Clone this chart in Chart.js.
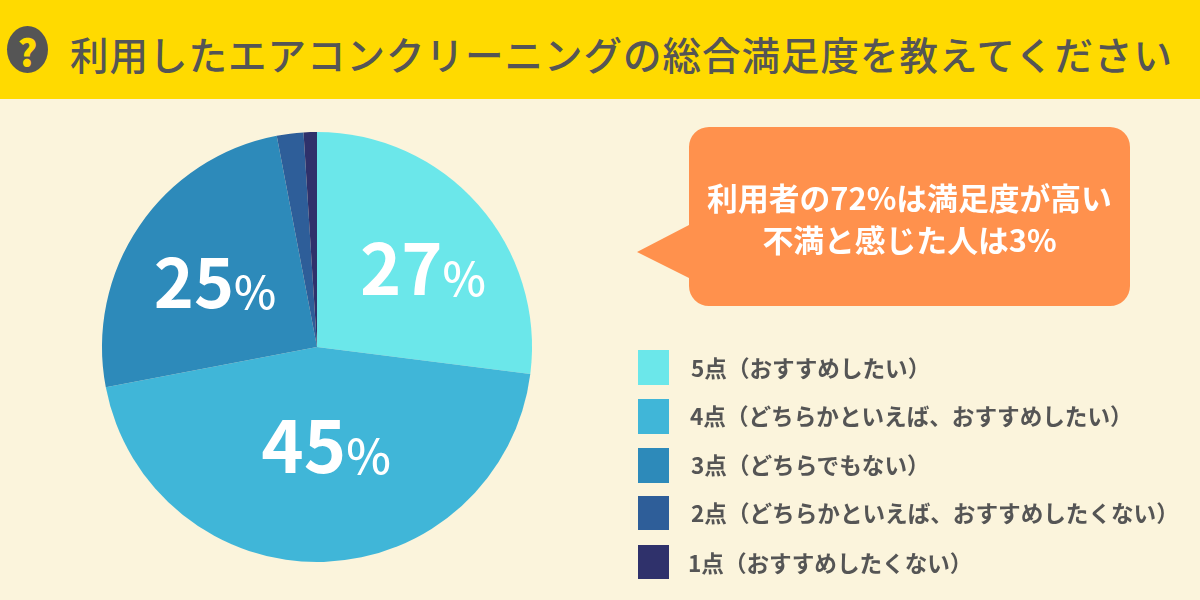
<!DOCTYPE html>
<html lang="ja">
<head>
<meta charset="utf-8">
<title>総合満足度</title>
<script src="https://cdn.jsdelivr.net/npm/chart.js@4/dist/chart.umd.min.js"></script>
<style>
  html, body { margin: 0; padding: 0; }
  body {
    position: relative; width: 1200px; height: 600px; overflow: hidden;
    background: #fbf4dc; color: #555;
    font-family: "Noto Sans CJK JP", "Noto Sans", sans-serif;
  }
  #header { position: absolute; left: 0; top: 0; width: 1200px; height: 99px; background: #ffda00; }
  #icon {
    position: absolute; left: 7px; top: 26px; width: 41px; height: 47px; border-radius: 50%;
    background: #555; color: #ffda00; font-size: 37px; font-weight: 900; line-height: 51px; text-align: center;
  }
  #title {
    position: absolute; left: 70px; top: 25px; font-size: 38.5px; line-height: 56px;
    letter-spacing: 1px; white-space: nowrap; font-weight: 500;
  }
  #myChart { position: absolute; left: 0; top: 0; }
  #bubble { position: absolute; left: 0; top: 0; }
  #note {
    position: absolute; left: 689px; top: 176px; width: 441px; text-align: center;
    color: #fff; font-size: 30.8px; font-weight: 700; line-height: 42px; white-space: nowrap;
  }
  .swatch { position: absolute; left: 638px; width: 31px; }
  .entry { position: absolute; font-size: 22.6px; font-weight: 700; line-height: 30px; white-space: nowrap; }
</style>
</head>
<body>
<div id="header">
  <div id="icon">?</div>
  <div id="title">利用したエアコンクリーニングの総合満足度を教えてください</div>
</div>
<canvas id="myChart" width="1200" height="600"></canvas>
<svg id="bubble" width="1200" height="600">
  <path fill="#ff914d" d="M709 127H1110a20 20 0 0 1 20 20V286a20 20 0 0 1 -20 20H709a20 20 0 0 1 -20 -20V278L637 252L689 225V147a20 20 0 0 1 20 -20Z"/>
</svg>
<div id="note">利用者の72%は満足度が高い<br>不満と感じた人は3%</div>
<div id="legend"></div>
<script>
'use strict';

var categories = [
  '5点（おすすめしたい）',
  '4点（どちらかといえば、おすすめしたい）',
  '3点（どちらでもない）',
  '2点（どちらかといえば、おすすめしたくない）',
  '1点（おすすめしたくない）'
];
var shares = [27, 45, 25, 2, 1];
var sliceColors = ['#6be7ea', '#40b6d8', '#2d8aba', '#2e5e99', '#2f316b'];

// where the big labels sit, relative to the pie centre (small slices get none)
var labelOffsets = [[106, -52], [9, 126], [-102, -39], null, null];
var labelSizes = [70, 72, 68, 0, 0];

// legend rows: top / height of swatch, left of text, middle of text
var legendTops = [350, 399, 448, 496, 545];
var legendHeights = [35, 35, 35, 34, 34];
var legendTextLefts = [691, 690, 691, 691, 688];
var legendTextMids = [368, 416, 465, 513, 563];

var legendEl = document.getElementById('legend');
categories.forEach(function (name, i) {
  var box = document.createElement('div');
  box.className = 'swatch';
  box.style.top = legendTops[i] + 'px';
  box.style.height = legendHeights[i] + 'px';
  box.style.background = sliceColors[i];
  legendEl.appendChild(box);

  var text = document.createElement('div');
  text.className = 'entry';
  text.style.left = legendTextLefts[i] + 'px';
  text.style.top = (legendTextMids[i] - 15) + 'px';
  text.textContent = name;
  legendEl.appendChild(text);
});

// draws "27%" style labels, number big and the percent sign smaller
var pieLabels = {
  id: 'pieLabels',
  afterDatasetsDraw: function (chart) {
    var ctx = chart.ctx;
    var arcs = chart.getDatasetMeta(0).data;
    var family = '"Noto Sans CJK JP", sans-serif';
    ctx.save();
    ctx.fillStyle = '#fff';
    ctx.textBaseline = 'alphabetic';
    ctx.textAlign = 'left';
    arcs.forEach(function (arc, i) {
      var off = labelOffsets[i];
      if (!off) return;
      var num = String(shares[i]);
      var numFont = '700 ' + labelSizes[i] + 'px ' + family;
      var pctFont = '500 ' + labelSizes[i] * 0.66 + 'px ' + family;
      ctx.font = numFont;
      var numW = ctx.measureText(num).width;
      ctx.font = pctFont;
      var pctW = ctx.measureText('%').width;
      var left = arc.x + off[0] - (numW + pctW) / 2;
      var base = arc.y + off[1];
      ctx.font = numFont;
      ctx.fillText(num, left, base);
      ctx.font = pctFont;
      ctx.fillText('%', left + numW, base + 1);
    });
    ctx.restore();
  }
};

var ctx = document.getElementById('myChart').getContext('2d');

var myChart = new Chart(ctx, {
  type: 'pie',
  data: {
    labels: categories,
    datasets: [{
      data: shares,
      backgroundColor: sliceColors,
      borderWidth: 0
    }]
  },
  options: {
    responsive: false,
    animation: false,
    layout: { padding: { left: 102, right: 668, top: 132, bottom: 38 } },
    plugins: {
      legend: { display: false },
      tooltip: { enabled: false }
    }
  },
  plugins: [pieLabels]
});
</script>
</body>
</html>
